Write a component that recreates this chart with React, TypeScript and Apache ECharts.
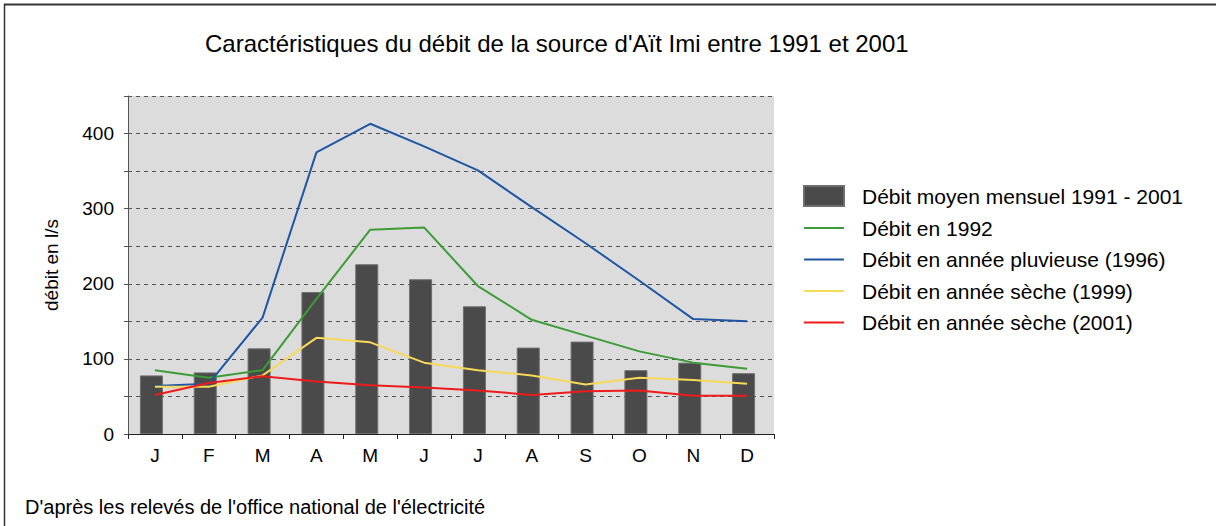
import React, { useEffect, useRef } from "react";
import * as echarts from "echarts";

const months = ["J", "F", "M", "A", "M", "J", "J", "A", "S", "O", "N", "D"];
const meanMonthly = [78, 82, 114, 189, 226, 206, 170, 115, 123, 85, 95, 81];
const flow1992 = [85, 75, 85, 180, 272, 275, 197, 152, 131, 110, 95, 87];
const flow1996 = [64, 67, 155, 375, 413, 383, 351, 302, 254, 204, 153, 150];
const flow1999 = [63, 63, 78, 128, 122, 95, 85, 78, 66, 75, 72, 67];
const flow2001 = [52, 68, 77, 70, 65, 62, 58, 52, 57, 58, 51, 51];
const yTicks = [0, 100, 200, 300, 400];

const names = [
  "Débit moyen mensuel 1991 - 2001",
  "Débit en 1992",
  "Débit en année pluvieuse (1996)",
  "Débit en année sèche (1999)",
  "Débit en année sèche (2001)",
];

export default function App() {
  const ref = useRef<HTMLDivElement>(null);
  useEffect(() => {
    if (!ref.current) return;
    const chart = echarts.init(ref.current, null, { renderer: "svg" });
    const font = "Liberation Sans, Arial, sans-serif";
    const lineIcon = "path://M0,0H40V2H0Z";
    const line = (name: string, data: number[], color: string) => ({
      type: "line",
      name,
      data,
      symbol: "none",
      lineStyle: { color, width: 2 },
      itemStyle: { color },
      z: 3,
    });
    chart.setOption({
      animation: false,
      backgroundColor: "#ffffff",
      textStyle: { fontFamily: font },
      grid: {
        left: 128,
        right: 442,
        top: 96,
        bottom: 92,
        show: true,
        backgroundColor: "#dcdcdc",
        borderWidth: 0,
      },
      legend: {
        orient: "vertical",
        left: 803,
        top: 185,
        padding: 0,
        itemWidth: 40,
        itemHeight: 20,
        itemGap: 10.5,
        data: [
          { name: names[0], icon: "rect" },
          { name: names[1], icon: lineIcon },
          { name: names[2], icon: lineIcon },
          { name: names[3], icon: lineIcon },
          { name: names[4], icon: lineIcon },
        ],
        textStyle: {
          fontFamily: font,
          fontSize: 21,
          color: "#000",
          padding: [0, 0, 0, 13],
        },
      },
      xAxis: {
        type: "category",
        data: months,
        boundaryGap: true,
        axisLine: { lineStyle: { color: "#222", width: 1 } },
        axisTick: { show: true, length: 5, lineStyle: { color: "#222" } },
        axisLabel: { fontSize: 19, color: "#000", margin: 12, fontFamily: font },
        splitLine: { show: false },
      },
      yAxis: {
        type: "value",
        min: 0,
        max: 450,
        interval: 50,
        name: "débit en l/s",
        nameLocation: "middle",
        nameRotate: 90,
        nameGap: 67,
        nameTextStyle: { fontSize: 19, color: "#000", fontFamily: font },
        axisLine: { show: true, lineStyle: { color: "#555", width: 1 } },
        axisTick: { show: true, length: 4, lineStyle: { color: "#555" } },
        axisLabel: {
          fontSize: 19,
          color: "#000",
          margin: 14,
          fontFamily: font,
          formatter: (v: number) => (yTicks.includes(v) ? String(v) : ""),
        },
        splitLine: { show: true, lineStyle: { color: "#555", type: [4, 4], width: 1 } },
      },
      graphic: [
        {
          type: "text",
          left: 205,
          top: 31,
          style: {
            text: "Caractéristiques du débit de la source d'Aït Imi entre 1991 et 2001",
            font: "24px Liberation Sans, Arial, sans-serif",
            fill: "#000",
          },
        },
        {
          type: "text",
          left: 25,
          top: 497,
          style: {
            text: "D'après les relevés de l'office national de l'électricité",
            font: "20px Liberation Sans, Arial, sans-serif",
            fill: "#000",
          },
        },
        {
          type: "line",
          shape: { x1: 4, y1: 4.5, x2: 1216, y2: 4.5 },
          style: { stroke: "#333", lineWidth: 2 },
        },
        {
          type: "line",
          shape: { x1: 4.5, y1: 4, x2: 4.5, y2: 526 },
          style: { stroke: "#333", lineWidth: 1.5 },
        },
      ],
      series: [
        {
          type: "bar",
          name: names[0],
          data: meanMonthly,
          barWidth: 23,
          barGap: "0%",
          itemStyle: { color: "#4a4a4a", borderColor: "#6e6e6e", borderWidth: 1 },
          z: 2,
        },
        {
          type: "bar",
          name: "_spacer",
          data: months.map(() => "-"),
          barWidth: 7,
          silent: true,
          itemStyle: { color: "transparent" },
        },
        line(names[1], flow1992, "#3c9c35"),
        line(names[2], flow1996, "#1f56a3"),
        line(names[3], flow1999, "#f6d957"),
        line(names[4], flow2001, "#ee1b1b"),
      ],
    });
    return () => chart.dispose();
  }, []);
  return (
    <div
      ref={ref}
      style={{ position: "fixed", left: 0, top: 0, width: 1216, height: 526, background: "#fff" }}
    />
  );
}
